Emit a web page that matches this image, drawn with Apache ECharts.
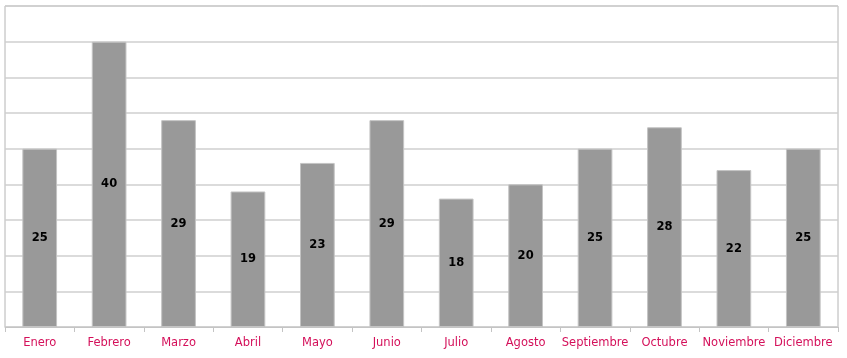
<!DOCTYPE html>
<html>
<head>
<meta charset="utf-8">
<script src="https://cdn.jsdelivr.net/npm/echarts@6/dist/echarts.min.js"></script>
<style>
  html, body { margin: 0; padding: 0; background: #fff; }
  .chart { width: 847px; height: 358px; }
</style>
</head>
<body>
<div class="chart"></div>
<script>
// datos
const meses = ['Enero', 'Febrero', 'Marzo', 'Abril', 'Mayo', 'Junio', 'Julio', 'Agosto', 'Septiembre', 'Octubre', 'Noviembre', 'Diciembre']
const valores = [25, 40, 29, 19, 23, 29, 18, 20, 25, 28, 22, 25]

const option = {
  animation: false,
  textStyle: { fontFamily: 'DejaVu Sans' },
  grid: {
    left: 5,
    right: 9,
    top: 6,
    bottom: 31,
    show: true,
    borderColor: '#b4b4b4',
    borderWidth: 1,
  },
  xAxis: {
    type: 'category',
    data: meses,
    axisLine: { lineStyle: { color: '#c4c4c4', width: 1 } },
    axisTick: { show: true, length: 5, lineStyle: { color: '#c4c4c4' } },
    axisLabel: { color: '#d4105a', fontSize: 11.5, margin: 10, interval: 0 },
  },
  yAxis: {
    type: 'value',
    min: 0,
    max: 45,
    interval: 5,
    axisLabel: { show: false },
    axisLine: { show: false },
    axisTick: { show: false },
    splitLine: { lineStyle: { color: '#cfcfcf', width: 1.5 } },
  },
  series: [
    {
      type: 'bar',
      data: valores,
      barWidth: '50%',
      itemStyle: { color: '#999999', borderColor: '#c4c4c4', borderWidth: 1 },
      label: {
        show: true,
        position: 'inside',
        color: '#000',
        fontWeight: 'bold',
        fontSize: 11.5,
      },
    },
  ],
}
echarts.init(document.querySelector('.chart')).setOption(option)
</script>
</body>
</html>
